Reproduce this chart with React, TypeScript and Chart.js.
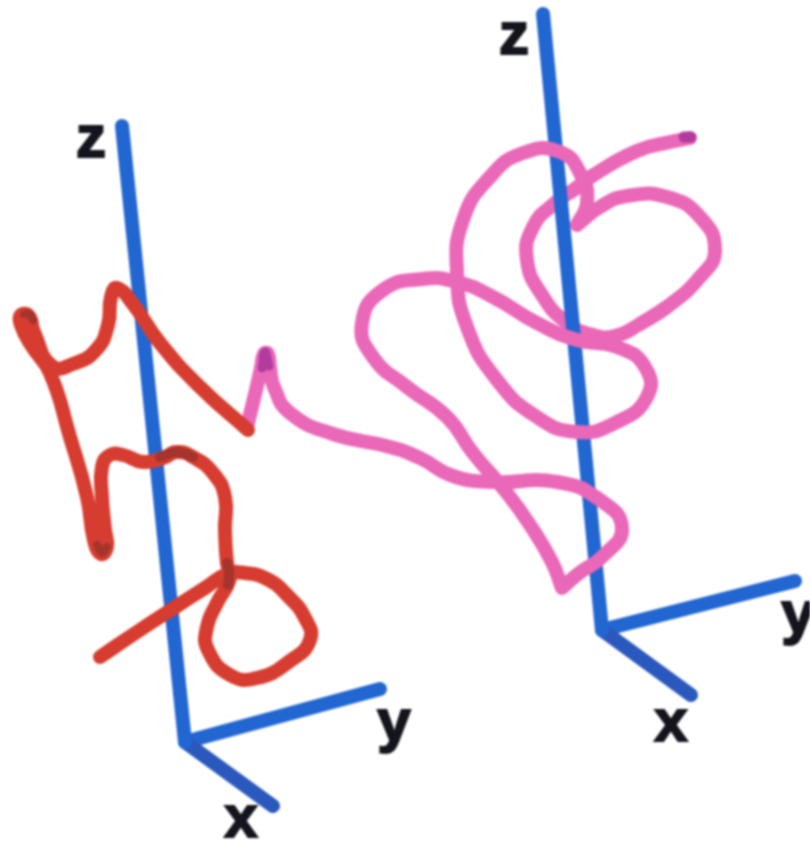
import React, { useEffect, useRef } from "react";
import { Chart, registerables } from "chart.js";

Chart.register(...registerables);

const AXIS_BLUE = "#2266d2";
const AXIS_DARK = "#2a58bc";
const RED = "#d63d30";
const RED_DARK = "#a5342c";
const PINK = "#ea68b8";
const PINK_DARK = "#b23c9e";

const pts = (list: number[][]) => list.map(([x, y]) => ({ x, y }));

const leftZ = pts([[122, 126], [185, 742]]);
const leftY = pts([[185, 742], [380, 689]]);
const leftX = pts([[185, 742], [273, 806]]);
const rightZ = pts([[543, 14], [602, 630]]);
const rightY = pts([[602, 630], [795, 581]]);
const rightX = pts([[602, 630], [691, 695]]);

const redPath = pts([
  [100, 657], [140, 630], [177, 606], [205, 588], [227, 574], [245, 573], [267, 579], [287, 595],
  [305, 618], [310, 640], [290, 661], [257, 678], [230, 675], [208, 650], [207, 627], [217, 603],
  [230, 578], [227, 563], [225, 530], [225, 497], [213, 473], [193, 457], [177, 452], [163, 458],
  [143, 462], [123, 455], [110, 455], [102, 467], [102, 497], [105, 530], [107, 547], [101, 554],
  [94, 540], [87, 497], [70, 437], [50, 373], [31, 345], [21, 325], [21, 315], [29, 316],
  [34, 332], [52, 366], [73, 364], [96, 350], [108, 325], [111, 297], [117, 288], [133, 304],
  [160, 343], [200, 387], [248, 430],
]);

const redShade1 = pts([[160, 457], [177, 452], [193, 457]]);
const redShade2 = pts([[228, 585], [229, 572], [227, 563]]);
const redShade3 = pts([[97, 545], [102, 553], [107, 547]]);
const redShade4 = pts([[24, 314], [29, 314], [33, 320]]);

const pinkFront = pts([
  [247, 427], [256, 390], [261, 368], [264, 354], [268, 354], [270, 368], [274, 387], [290, 413], [333, 434],
  [390, 447], [420, 458], [453, 476], [493, 482], [557, 482], [600, 500], [622, 528], [603, 556],
  [578, 574], [562, 588], [562, 588], [552, 562], [530, 525], [507, 493], [473, 453], [447, 417], [407, 387],
  [373, 357], [362, 323], [383, 290], [423, 279], [457, 282], [493, 297], [537, 323], [577, 340],
  [617, 347], [645, 367], [647, 397], [615, 423], [577, 432], [537, 417], [497, 380], [467, 327],
  [457, 273], [463, 220], [490, 177], [523, 153], [560, 152], [581, 175], [587, 203], [577, 225], [577, 225],
  [600, 207], [627, 196], [667, 197], [700, 217], [715, 250], [700, 277], [667, 307], [640, 324],
]);

const pinkBehind = pts([
  [667, 307], [640, 324], [615, 336], [593, 335], [567, 323], [542, 295], [527, 260], [533, 227],
  [555, 203], [575, 189], [592, 176],
]);

const pinkTail = pts([[575, 189], [592, 176], [637, 151], [670, 142], [690, 138]]);
const pinkShade1 = pts([[262, 368], [265, 352], [269, 366]]);
const pinkShade2 = pts([[684, 137], [691, 137]]);

const axisLabels = ["z", "y", "x", "z", "y", "x"];
const labelX = [91, 394, 241, 514, 798, 671];
const labelBase = [157, 741, 837, 54, 633, 741];

const axisLine = (data: { x: number; y: number }[], color: string, width = 14) => ({
  data,
  borderColor: color,
  borderWidth: width,
  borderCapStyle: "round" as const,
  pointRadius: 0,
  showLine: true,
  tension: 0,
});

const curve = (data: { x: number; y: number }[], color: string, width = 14) => ({
  data,
  borderColor: color,
  borderWidth: width,
  borderCapStyle: "round" as const,
  borderJoinStyle: "round" as const,
  pointRadius: 0,
  showLine: true,
  tension: 0.5,
});

const labelPlugin = {
  id: "axisLetters",
  afterDatasetsDraw(chart: any) {
    const { ctx, scales } = chart;
    ctx.save();
    ctx.fillStyle = "#14141c";
    ctx.strokeStyle = "#14141c";
    ctx.lineWidth = 2;
    ctx.font = "bold 60px 'Liberation Sans', sans-serif";
    ctx.textAlign = "center";
    ctx.textBaseline = "alphabetic";
    axisLabels.forEach((t, i) => {
      const x = scales.x.getPixelForValue(labelX[i]);
      const y = scales.y.getPixelForValue(labelBase[i]);
      ctx.strokeText(t, x, y);
      ctx.fillText(t, x, y);
    });
    ctx.restore();
  },
};

export default function App() {
  const ref = useRef<HTMLCanvasElement>(null);
  useEffect(() => {
    const chart = new Chart(ref.current!, {
      type: "scatter",
      data: {
        // Chart.js paints the first dataset last, so the list runs from front to back.
        datasets: [
          curve(redShade1, RED_DARK, 10),
          curve(redShade2, RED_DARK, 10),
          curve(redShade3, RED_DARK, 8),
          curve(redShade4, RED_DARK, 8),
          curve(redPath, RED),
          curve(pinkShade1, PINK_DARK, 9),
          curve(pinkShade2, PINK_DARK, 11),
          curve(pinkFront, PINK),
          curve(pinkTail, PINK),
          axisLine(leftZ, AXIS_BLUE),
          axisLine(leftX, AXIS_DARK),
          axisLine(leftY, AXIS_BLUE),
          axisLine(rightZ, AXIS_BLUE),
          axisLine(rightX, AXIS_DARK),
          axisLine(rightY, AXIS_BLUE),
          curve(pinkBehind, PINK),
        ] as any,
      },
      options: {
        animation: false,
        responsive: false,
        layout: { padding: 0 },
        plugins: { legend: { display: false }, tooltip: { enabled: false }, title: { display: false } },
        scales: {
          x: { type: "linear", min: 0, max: 810, display: false },
          y: { type: "linear", min: 0, max: 841, reverse: true, display: false },
        },
      },
      plugins: [labelPlugin],
    });
    return () => chart.destroy();
  }, []);
  return (
    <div style={{ position: "absolute", left: 0, top: 0, width: 810, height: 841, background: "#fff" }}>
      <canvas ref={ref} width={810} height={841} style={{ display: "block", filter: "blur(0.8px)" }} />
    </div>
  );
}
